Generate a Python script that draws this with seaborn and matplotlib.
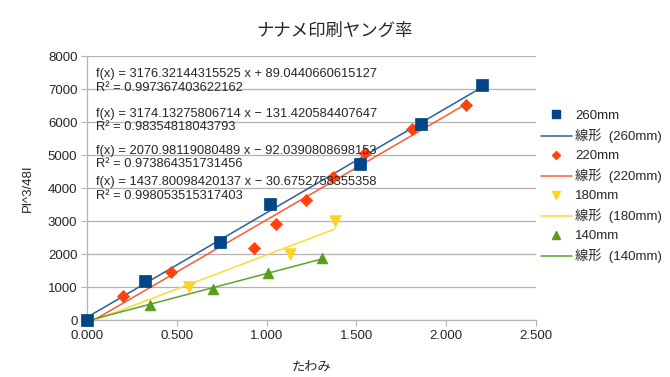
import matplotlib
matplotlib.use("Agg")
import matplotlib.pyplot as plt
from matplotlib.lines import Line2D
import seaborn as sns
import pandas as pd

# data
x_260 = [0.0, 0.32, 0.74, 1.02, 1.52, 1.86, 2.20]
y_260 = [0, 1180, 2380, 3530, 4720, 5950, 7120]

x_220 = [0.0, 0.20, 0.47, 0.93, 1.05, 1.22, 1.37, 1.55, 1.81, 2.11]
y_220 = [0, 730, 1460, 2200, 2900, 3630, 4340, 5050, 5800, 6530]

x_180 = [0.0, 0.57, 1.13, 1.38]
y_180 = [0, 1010, 1990, 3000]

x_140 = [0.0, 0.35, 0.70, 1.01, 1.31]
y_140 = [0, 470, 950, 1420, 1880]

labels = ["260mm", "220mm", "180mm", "140mm"]
colors = ["#004586", "#ff420e", "#ffd320", "#579d1c"]
line_colors = ["#2a6099", "#ff5a2e", "#ffd932", "#5fa32a"]
markers = ["s", "D", "v", "^"]
msizes = [70, 38, 70, 60]

equations = [
    "f(x) = 3176.32144315525 x + 89.0440660615127\nR² = 0.997367403622162",
    "f(x) = 3174.13275806714 x − 131.420584407647\nR² = 0.98354818043793",
    "f(x) = 2070.98119080489 x − 92.0390808698153\nR² = 0.973864351731456",
    "f(x) = 1437.80098420137 x − 30.6752758355358\nR² = 0.998053515317403",
]

sns.set_style("white")
plt.rcParams["font.family"] = ["Liberation Sans", "Noto Sans CJK JP", "DejaVu Sans"]

fig = plt.figure(figsize=(6.7, 3.77), dpi=100)
ax = fig.add_axes([0.13, 0.151, 0.67, 0.70])

series = [(x_260, y_260), (x_220, y_220), (x_180, y_180), (x_140, y_140)]
# trend lines first, then markers (260mm last so it sits on top at the origin)
for (xs, ys), lc in zip(series, line_colors):
    df = pd.DataFrame({"x": xs, "y": ys})
    sns.regplot(data=df, x="x", y="y", ax=ax, scatter=False, ci=None,
                truncate=True, line_kws={"color": lc, "lw": 1.1, "zorder": 2})
for (xs, ys), c, m, s in list(zip(series, colors, markers, msizes))[::-1]:
    df = pd.DataFrame({"x": xs, "y": ys})
    sns.scatterplot(data=df, x="x", y="y", ax=ax, marker=m, s=s, color=c,
                    edgecolor=c, linewidth=0.5, zorder=3, clip_on=False)

ax.set_xlim(0, 2.5)
ax.set_ylim(0, 8000)
ax.set_xticks([0, 0.5, 1.0, 1.5, 2.0, 2.5])
ax.set_xticklabels([f"{v:.3f}" for v in [0, 0.5, 1.0, 1.5, 2.0, 2.5]])
ax.set_yticks(range(0, 8001, 1000))
ax.tick_params(axis="both", labelsize=9.5, length=4, color="#b3b3b3",
               direction="out", left=True, bottom=True, pad=3)
ax.yaxis.grid(True, color="#b3b3b3", lw=0.9)
ax.xaxis.grid(False)
for side in ["top", "right"]:
    ax.spines[side].set_visible(False)
for side in ["left", "bottom"]:
    ax.spines[side].set_color("#b3b3b3")
    ax.spines[side].set_linewidth(0.9)

ax.set_xlabel("たわみ", fontsize=9.5, labelpad=14)
ax.set_ylabel("Pl^3/48I", fontsize=9.5, labelpad=10)
fig.suptitle("ナナメ印刷ヤング率", x=0.50, y=0.94, fontsize=12.5)

ypos = [0.955, 0.805, 0.665, 0.545]
for eq, yp in zip(equations, ypos):
    ax.text(0.02, yp, eq, transform=ax.transAxes, fontsize=9.3,
            va="top", ha="left", linespacing=1.2, zorder=4)

handles = []
leg_labels = []
for lab, c, lc, m in zip(labels, colors, line_colors, markers):
    handles.append(Line2D([], [], ls="none", marker=m, color=c,
                          markersize=6 if m != "D" else 4.5))
    leg_labels.append(lab)
    handles.append(Line2D([], [], color=lc, lw=1.1))
    leg_labels.append(f"線形  ({lab})")
fig.legend(handles, leg_labels, loc="center left", bbox_to_anchor=(0.795, 0.505),
           frameon=False, fontsize=9.5, handlelength=2.4, labelspacing=0.5,
           handletextpad=0.2, borderaxespad=0.2)

fig.savefig("out.png", dpi=100)
